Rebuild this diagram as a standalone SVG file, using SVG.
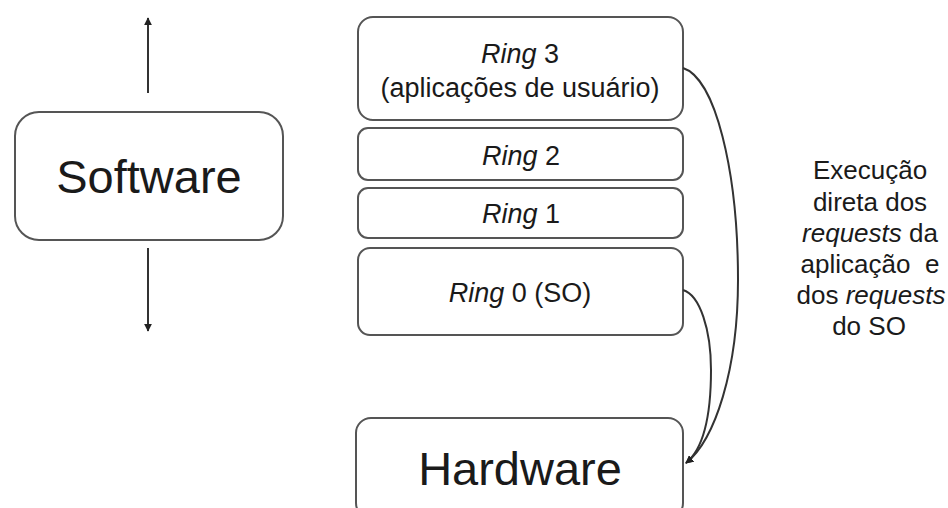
<svg xmlns="http://www.w3.org/2000/svg" width="948" height="508" viewBox="0 0 948 508">
<style>
.box{fill:#fff;stroke:#555;stroke-width:2}
.t{font-family:"Liberation Sans",Arial,sans-serif;fill:#1a1a1a;text-anchor:middle}
.big{font-size:47px}
.mid{font-size:27px}
.lbl{font-size:26px}
.edge{fill:none;stroke:#333;stroke-width:2}
</style>
<defs>
<marker id="ah" viewBox="0 0 10 10" refX="9" refY="5" markerWidth="8" markerHeight="8" markerUnits="userSpaceOnUse" orient="auto">
<path d="M0,0 L10,5 L0,10 z" fill="#222"/>
</marker>
</defs>
<rect width="948" height="508" fill="#fff"/>
<g id="software">
<rect class="box" x="15" y="112" width="268" height="128" rx="24"/>
<text class="t big" x="149" y="193">Software</text>
</g>
<g id="ring3">
<rect class="box" x="358" y="17" width="325" height="103" rx="15"/>
<text class="t mid" x="520" y="63"><tspan font-style="italic">Ring</tspan> 3</text>
<text class="t mid" x="520" y="97">(aplicações de usuário)</text>
</g>
<g id="ring2">
<rect class="box" x="358" y="128" width="325" height="52" rx="10"/>
<text class="t mid" x="521" y="165"><tspan font-style="italic">Ring</tspan> 2</text>
</g>
<g id="ring1">
<rect class="box" x="358" y="188" width="325" height="50" rx="10"/>
<text class="t mid" x="521" y="223"><tspan font-style="italic">Ring</tspan> 1</text>
</g>
<g id="ring0">
<rect class="box" x="358" y="248" width="325" height="87" rx="12"/>
<text class="t mid" x="520" y="302"><tspan font-style="italic">Ring</tspan> 0 (SO)</text>
</g>
<g id="hardware">
<rect class="box" x="356" y="418" width="327" height="100" rx="15"/>
<text class="t big" x="520" y="485">Hardware</text>
</g>
<g id="label">
<text class="t lbl" x="870" y="179">Execução</text>
<text class="t lbl" x="870" y="211">direta dos</text>
<text class="t lbl" x="870" y="242"><tspan font-style="italic">requests</tspan> da</text>
<text class="t lbl" x="870" y="273" style="white-space:pre">aplicação  e</text>
<text class="t lbl" x="871" y="304">dos <tspan font-style="italic">requests</tspan></text>
<text class="t lbl" x="869" y="335">do SO</text>
</g>
<g id="connectors">
<line class="edge" x1="148" y1="93" x2="148" y2="18" marker-end="url(#ah)"/>
<line class="edge" x1="148" y1="248" x2="148" y2="331" marker-end="url(#ah)"/>
<path class="edge" d="M683,68 C715,78 738,170 738,280 C738,370 715,440 686,463" marker-end="url(#ah)"/>
<path class="edge" d="M683,290 C700,295 711,330 711,370 C711,420 702,450 686,463" marker-end="url(#ah)"/>
</g>
</svg>
